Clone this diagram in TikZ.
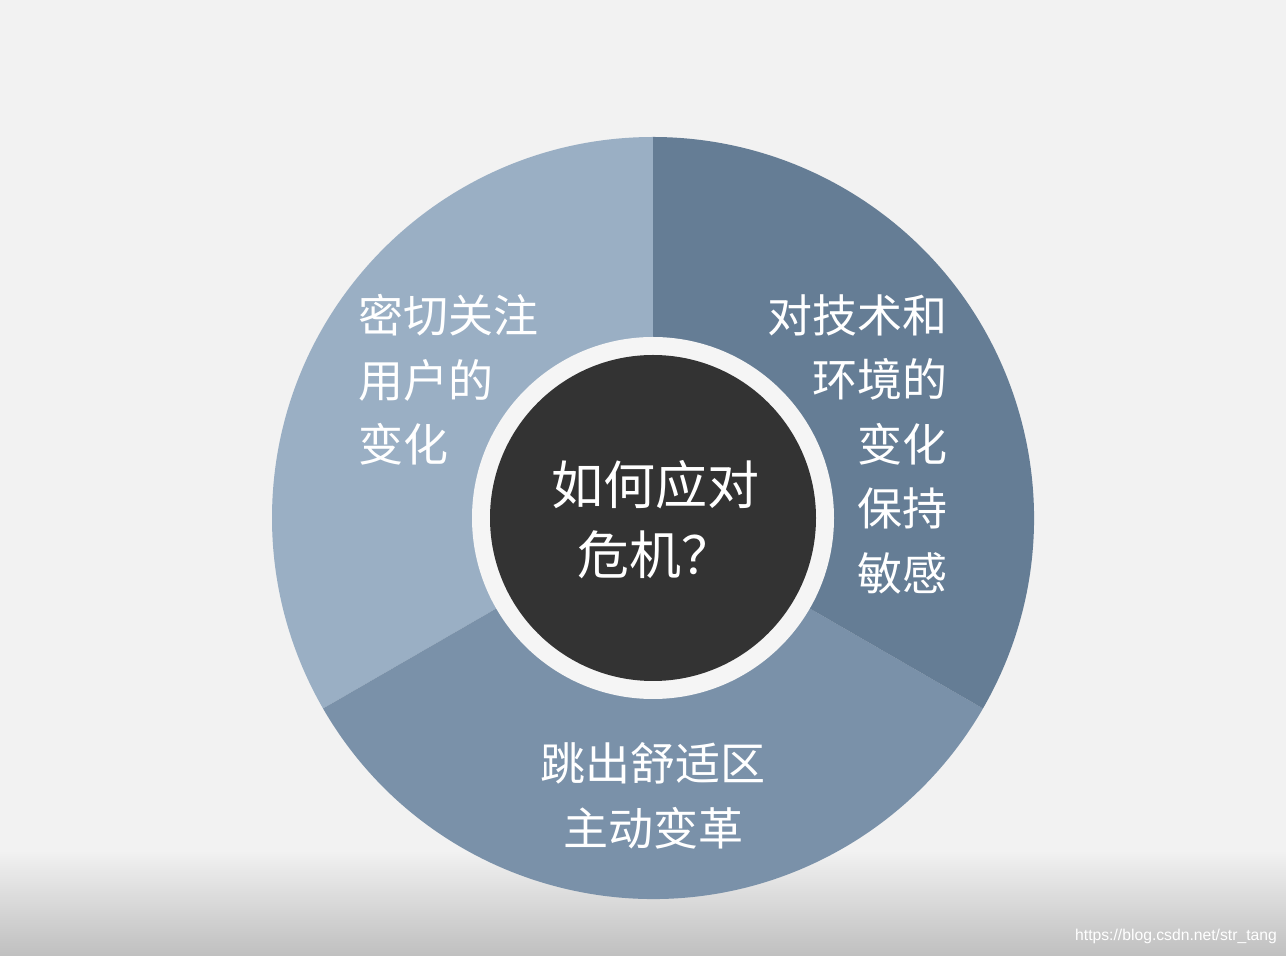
\documentclass[tikz,border=0pt]{standalone}
\usepackage{fontspec}
\setmainfont{Noto Sans CJK SC}
\newfontfamily\urlfont{Liberation Sans}
\usetikzlibrary{positioning}

\definecolor{bgGray}{HTML}{F2F2F2}
\definecolor{segLeft}{HTML}{9AAFC4}
\definecolor{segRight}{HTML}{657D95}
\definecolor{segBottom}{HTML}{7A91A9}
\definecolor{hubDark}{HTML}{333333}
\definecolor{ringWhite}{HTML}{F5F5F5}

\begin{document}
\begin{tikzpicture}[x=1pt,y=1pt]
\tikzstyle{segtext}=[text=white,inner sep=0pt,font=\fontsize{45}{64.5}\selectfont]
\tikzstyle{hubtext}=[text=white,inner sep=0pt,font=\fontsize{52}{70}\selectfont]

%background
\useasboundingbox (0,0) rectangle (1286,956);
\fill[bgGray] (0,0) rectangle (1286,956);
\shade[top color=bgGray,bottom color=black!25] (0,0) rectangle (1286,106);

%three sectors
\coordinate (c) at (653,438);
\fill[segLeft] (c) -- ++(90:381) arc (90:210:381) -- cycle;
\fill[segBottom] (c) -- ++(210:381) arc (210:330:381) -- cycle;
\fill[segRight] (c) -- ++(-30:381) arc (-30:90:381) -- cycle;

%white ring and dark hub
\node[circle,fill=ringWhite,inner sep=0pt,minimum size=362pt] (ring) at (c) {};
\node[circle,fill=hubDark,inner sep=0pt,minimum size=326pt] (hub) at (c) {};
\node[hubtext,align=center] (question) at (655,436) {如何应对\\危机？};

%sector labels
\node[segtext,align=left,anchor=west] (users) at (358,576) {密切关注\\用户的\\变化};
\node[segtext,align=right,anchor=east] (tech) at (948,512) {对技术和\\环境的\\变化\\保持\\敏感};
\node[segtext,align=center] (comfort) at (653,160) {跳出舒适区\\主动变革};

%watermark
\node[text=white,inner sep=0pt,anchor=east,font=\urlfont\fontsize{15.7}{17}\selectfont] (wm) at (1277,20) {https://blog.csdn.net/str\_tang};
\end{tikzpicture}
\end{document}
